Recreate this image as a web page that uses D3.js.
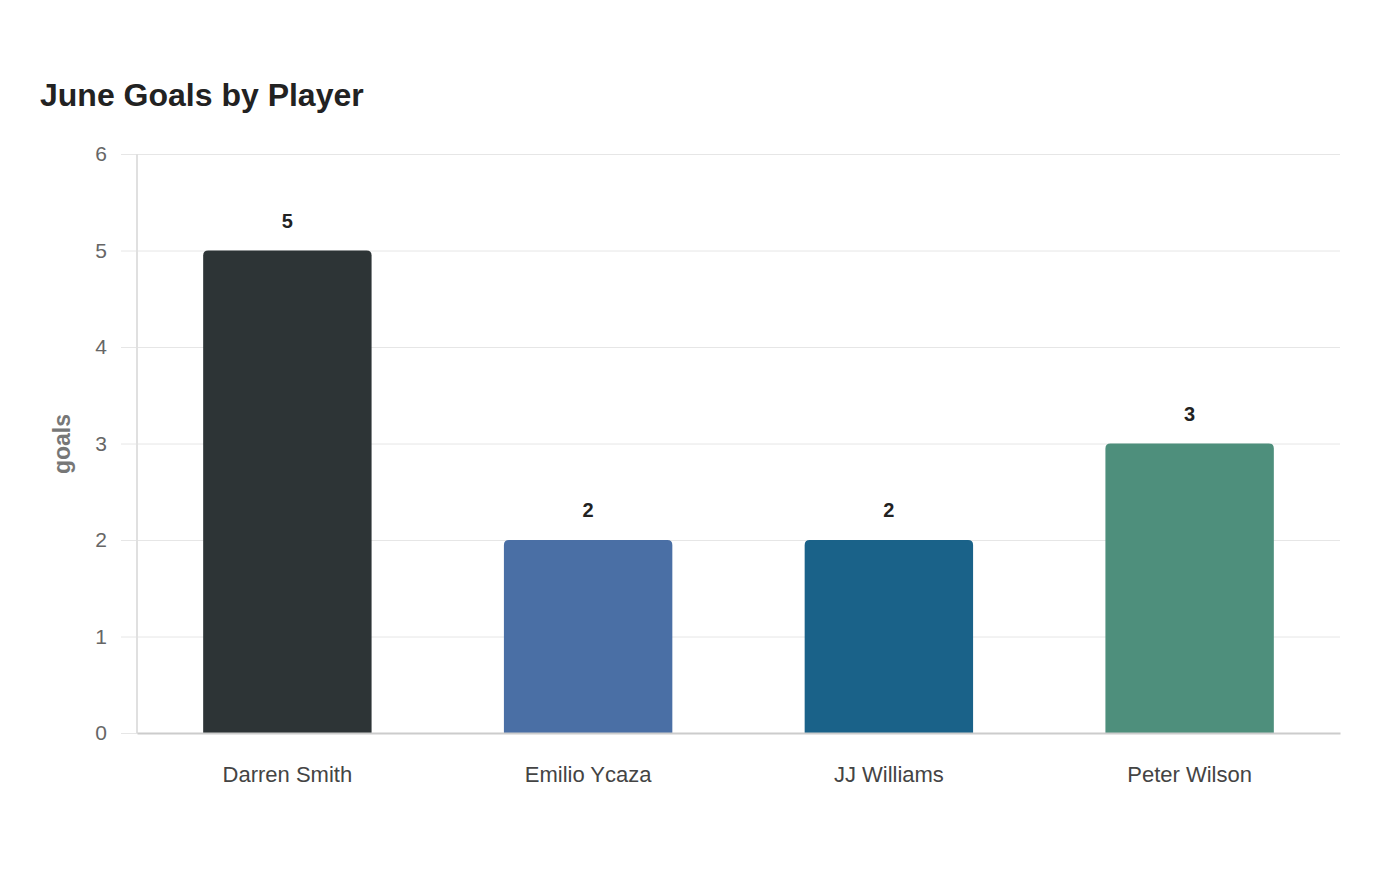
<!DOCTYPE html>
<html>
<head>
<meta charset="utf-8">
<script src="https://cdn.jsdelivr.net/npm/d3@7"></script>
<style>
  body { margin: 0; background: #fff; }
  svg { font-family: "Liberation Sans", Arial, sans-serif; }
</style>
</head>
<body>
<svg class="chart"></svg>
<script>
const players = ['Darren Smith', 'Emilio Ycaza', 'JJ Williams', 'Peter Wilson'];
const goals = [5, 2, 2, 3];
const barColors = ['#2d3436', '#4a6fa5', '#1a6289', '#4e8f7c'];
const yTicks = [0, 1, 2, 3, 4, 5, 6];

const svg = d3.select('.chart')
	.attr('width', 1400)
	.attr('height', 880);

let width = +svg.attr('width'),
	height = +svg.attr('height'),
	margin = { top: 154, right: 60, bottom: 147, left: 137 },
	innerWidth = width - margin.left - margin.right,
	innerHeight = height - margin.top - margin.bottom;

const data = players.map((p, i) => ({ player: p, goals: goals[i], color: barColors[i] }));

const xScale = d3.scaleBand()
	.domain(players)
	.range([0, innerWidth])
	.paddingInner(0.44)
	.paddingOuter(0.22);

const yScale = d3.scaleLinear()
	.domain([0, 6])
	.range([innerHeight, 0]);

svg.append('text')
	.attr('x', 40)
	.attr('y', 106)
	.attr('font-size', 32)
	.attr('font-weight', 'bold')
	.attr('fill', '#222')
	.text('June Goals by Player');

const g = svg.append('g')
	.attr('transform', `translate(${margin.left}, ${margin.top})`);

// grid + y ticks
const yAxis = d3.axisLeft(yScale)
	.tickValues(yTicks)
	.tickFormat(d3.format('d'))
	.tickSize(-innerWidth)
	.tickPadding(30);
const yAxisG = g.append('g').call(yAxis);
yAxisG.select('.domain').remove();
yAxisG.selectAll('.tick line')
	.attr('stroke', '#e6e6e6')
	.attr('x1', -16);
yAxisG.selectAll('.tick text')
	.attr('font-size', 21)
	.attr('fill', '#666')
	.attr('font-family', '"Liberation Sans", Arial, sans-serif');

g.append('line')
	.attr('x1', 0).attr('x2', 0)
	.attr('y1', 0).attr('y2', innerHeight)
	.attr('stroke', '#e0e0e0')
	.attr('stroke-width', 2);

const r = 5;
g.selectAll('path.bar')
	.data(data)
	.enter().append('path')
	.attr('class', 'bar')
	.attr('fill', d => d.color)
	.attr('d', d => {
		const x0 = xScale(d.player), x1 = x0 + xScale.bandwidth();
		const y0 = yScale(d.goals), y1 = yScale(0);
		return `M${x0},${y1}V${y0 + r}Q${x0},${y0} ${x0 + r},${y0}H${x1 - r}Q${x1},${y0} ${x1},${y0 + r}V${y1}Z`;
	});

g.selectAll('text.val')
	.data(data)
	.enter().append('text')
	.attr('class', 'val')
	.attr('x', d => xScale(d.player) + xScale.bandwidth() / 2)
	.attr('y', d => yScale(d.goals) - 23)
	.attr('text-anchor', 'middle')
	.attr('font-size', 20)
	.attr('font-weight', 'bold')
	.attr('fill', '#222')
	.attr('font-family', '"Liberation Sans Narrow", "Liberation Sans", Arial, sans-serif')
	.text(d => d.goals);

const xAxis = d3.axisBottom(xScale)
	.tickSize(0)
	.tickPadding(33);
const xAxisG = g.append('g').call(xAxis)
	.attr('transform', `translate(0, ${innerHeight})`);
xAxisG.select('.domain')
	.attr('stroke', '#cccccc')
	.attr('stroke-width', 2);
xAxisG.selectAll('.tick text')
	.attr('font-size', 22)
	.attr('fill', '#444')
	.attr('font-family', '"Liberation Sans", Arial, sans-serif');

svg.append('text')
	.attr('transform', `translate(70, 444) rotate(-90)`)
	.attr('text-anchor', 'middle')
	.attr('font-size', 23)
	.attr('font-weight', 'bold')
	.attr('fill', '#777')
	.text('goals');
</script>
</body>
</html>
